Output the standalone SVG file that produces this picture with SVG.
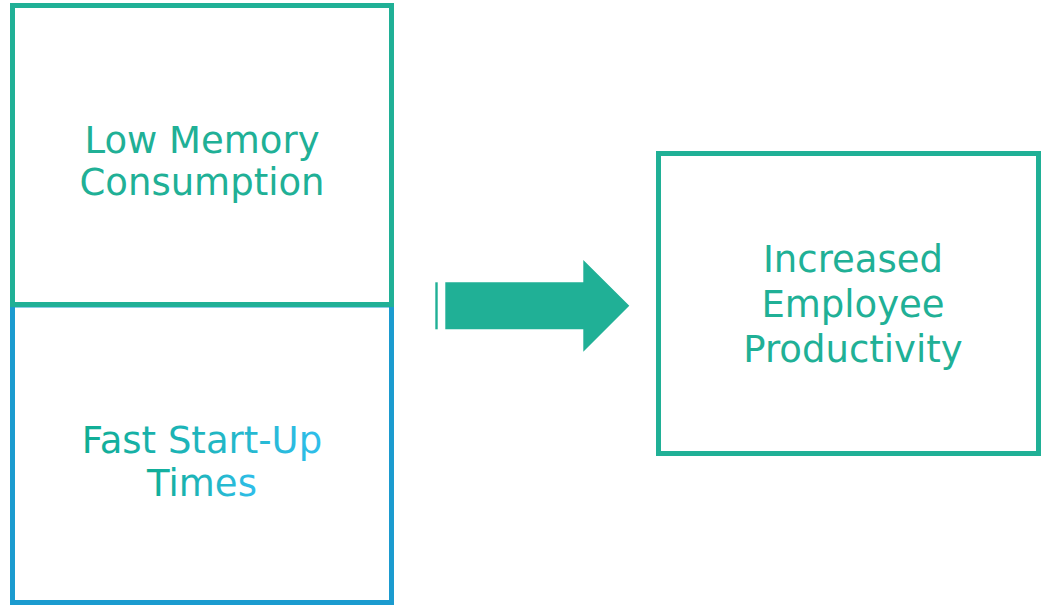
<svg xmlns="http://www.w3.org/2000/svg" width="1043" height="605" viewBox="0 0 1043 605">
<defs>
<linearGradient id="tg" x1="0" y1="0" x2="1" y2="0">
<stop offset="0" stop-color="#0FAD92"/>
<stop offset="1" stop-color="#2FBEEB"/>
</linearGradient>
<style>
.lbl{font-family:"DejaVu Sans","Verdana",sans-serif;font-size:37px;text-anchor:middle;fill:#20B096}
.box{fill:#FFFFFF;stroke:#20B096;stroke-width:5}
</style>
</defs>
<rect width="1043" height="605" fill="#FFFFFF"/>
<g id="fast-startup">
<rect x="12.5" y="305" width="379" height="297.5" fill="#FFFFFF" stroke="#1B9BCF" stroke-width="5"/>
<text class="lbl" x="202" y="453" fill="url(#tg)" style="fill:url(#tg)">Fast Start-Up</text>
<text class="lbl" x="202" y="496" style="fill:url(#tg)">Times</text>
</g>
<g id="low-memory">
<rect class="box" x="12.5" y="5.5" width="379" height="299" fill="none" style="fill:none"/>
<text class="lbl" x="202" y="153">Low Memory</text>
<text class="lbl" x="202" y="195">Consumption</text>
</g>
<g id="productivity">
<rect class="box" x="658.5" y="153.5" width="380" height="300"/>
<text class="lbl" x="853" y="272">Increased</text>
<text class="lbl" x="853" y="317">Employee</text>
<text class="lbl" x="853" y="362">Productivity</text>
</g>
<g id="connectors">
<rect x="435.3" y="282.3" width="2.4" height="47" fill="#20B096"/>
<polygon points="445.3,282.3 583.3,282.3 583.3,260 629.3,305.8 583.3,351.7 583.3,329.3 445.3,329.3" fill="#20B096"/>
</g>
</svg>
